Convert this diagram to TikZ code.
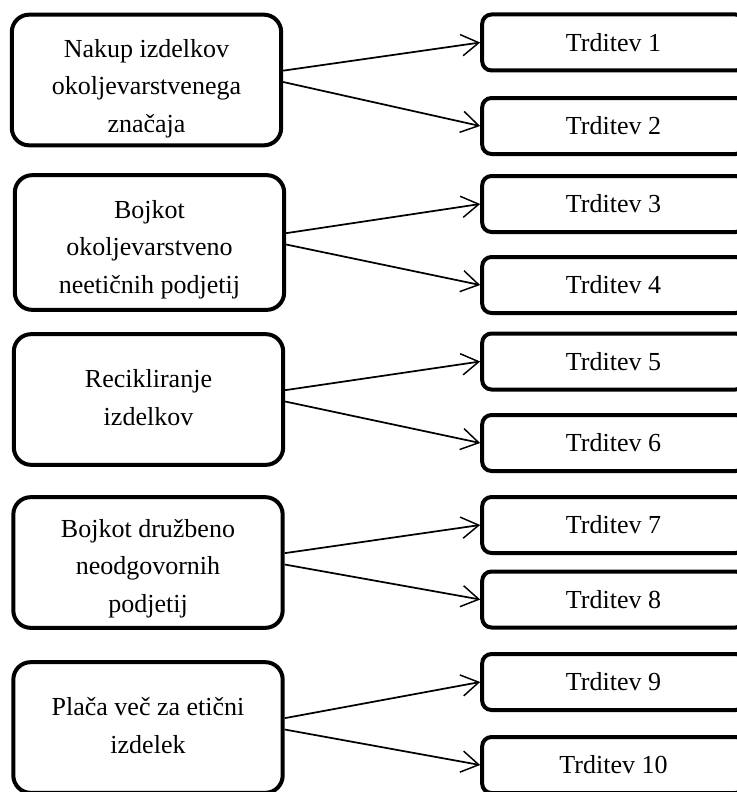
\documentclass[tikz,border=0pt]{standalone}
\usepackage{fontspec}
\setmainfont{Liberation Serif}
\usetikzlibrary{arrows.meta}

\tikzset{
  cause/.style={draw, line width=3pt, rounded corners=13pt, minimum width=202pt, minimum height=98pt},
  causetext/.style={align=center, anchor=base, font=\fontsize{19.5}{28}\selectfont},
  claim/.style={draw, line width=3pt, rounded corners=7pt, minimum width=197pt, minimum height=42pt, font=\fontsize{19.5}{28}\selectfont},
  pointer/.style={line width=1.3pt, -{Straight Barb[length=13pt,width=16pt,line width=1.1pt]}}
}

\begin{document}
\begin{tikzpicture}[x=0.75pt,y=-0.75pt]
\useasboundingbox (0,0) rectangle (737,792);
\clip (0,0) rectangle (737,792);
% the boxes on the left
\node[cause] (l1) at (146.5,80) {};
\node[cause, minimum height=101pt] (l2) at (149.5,242.5) {};
\node[cause] (l3) at (148.5,399.5) {};
\node[cause] (l4) at (148,562.5) {};
\node[cause] (l5) at (148,727.5) {};
% their texts (placed at the baseline of the last line)
\node[causetext] (t1) at (146.5,132) {Nakup izdelkov\\okoljevarstvenega\\značaja};
\node[causetext] (t2) at (149.5,293) {Bojkot\\okoljevarstveno\\neetičnih podjetij};
\node[causetext] (t3) at (148.5,425) {Recikliranje\\izdelkov};
\node[causetext] (t4) at (148,612) {Bojkot družbeno\\neodgovornih\\podjetij};
\node[causetext] (t5) at (148,753) {Plača več za etični\\izdelek};
% the boxes on the right
\foreach \i/\y in {1/42.5,2/126,3/204,4/285,5/361.5,6/443,7/525,8/599.5,9/682,10/765}
  \node[claim] (r\i) at (613.5,\y) {Trditev \i};
% the arrows
\foreach \l/\a/\b in {1/1/2,2/3/4,3/5/6,4/7/8,5/9/10} {
  \draw[pointer] ([yshift=7pt]l\l.east) -- (r\a.west);
  \draw[pointer] ([yshift=-1.5pt]l\l.east) -- (r\b.west);
}
\end{tikzpicture}
\end{document}
